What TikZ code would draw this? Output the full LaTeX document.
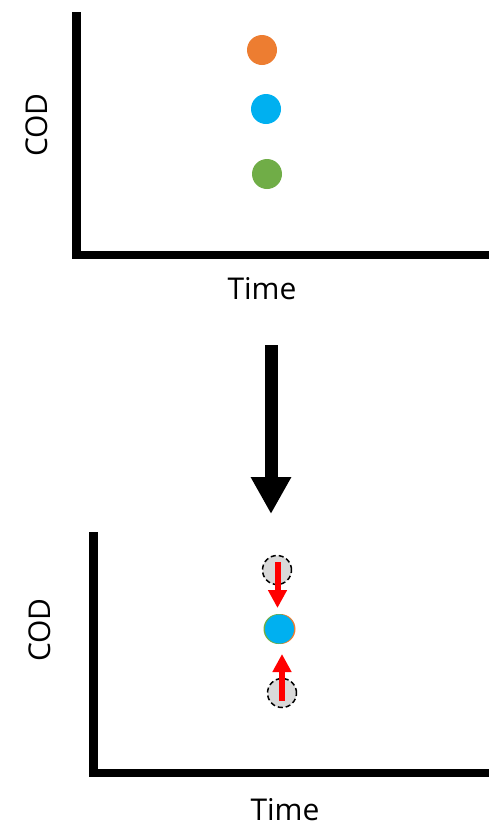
\documentclass[tikz,border=0pt]{standalone}
\usepackage{fontspec}
\setmainfont{Open Sans}
\usetikzlibrary{arrows.meta}
\definecolor{orangedot}{HTML}{ED7D31}
\definecolor{bluedot}{HTML}{00B0F0}
\definecolor{greendot}{HTML}{70AD47}
\definecolor{ghost}{HTML}{D9D9D9}
\tikzset{
  axis/.style={line width=8.5pt, line cap=butt, line join=miter},
  dot/.style={circle, minimum size=30pt, inner sep=0pt, fill=#1},
  ghostdot/.style={circle, minimum size=29pt, inner sep=0pt, fill=ghost, draw=black, line width=1.5pt, dash pattern=on 5pt off 3pt},
  lbl/.style={font=\fontsize{30}{34}\selectfont, inner sep=0pt},
  redarrow/.style={draw=red, line width=6pt, -{Triangle[length=18pt,width=18pt]}},
}
\begin{document}
\begin{tikzpicture}[x=1pt,y=-1pt]
\useasboundingbox (0,0) rectangle (489,828);
% top plot
\draw[axis] (76.5,12) -- (76.5,255) -- (489,255);
\node[dot=orangedot] (o1) at (262,50) {};
\node[dot=bluedot] (b1) at (266,109) {};
\node[dot=greendot] (g1) at (267,174) {};
\node[lbl] (t1) at (262,289) {Time};
\node[lbl, rotate=90] (c1) at (37,125) {COD};
% big arrow
\coordinate (as) at (271,345);
\coordinate (ae) at (271,514);
\draw[line width=13pt, -{Triangle[length=37pt,width=38pt]}] (as) -- (ae);
% bottom plot
\draw[axis] (93.5,532) -- (93.5,773) -- (489,773);
\node[ghostdot] (gt) at (277,570) {};
\node[ghostdot] (gb) at (282,693) {};
\node[dot=orangedot] (o2) at (280.5,629) {};
\node[dot=greendot] (g2) at (278.5,629) {};
\node[dot=bluedot, minimum size=29pt] (b2) at (279.5,629) {};
\coordinate (rt) at (277.5,562);
\coordinate (rtend) at (277.5,608);
\coordinate (rb) at (282,701);
\coordinate (rbend) at (282,654);
\draw[redarrow] (rt) -- (rtend);
\draw[redarrow] (rb) -- (rbend);
\node[lbl] (t2) at (285,810) {Time};
\node[lbl, rotate=90] (c2) at (40,630) {COD};
\end{tikzpicture}
\end{document}
